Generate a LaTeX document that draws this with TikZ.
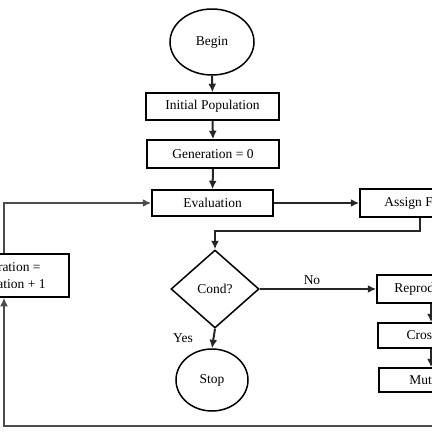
\documentclass[tikz,border=0pt]{standalone}
\usepackage{fontspec}
\setmainfont{Liberation Serif}
\usetikzlibrary{shapes.geometric,arrows.meta}
\begin{document}
\begin{tikzpicture}[x=1pt,y=-1pt,
  every node/.style={font=\fontsize{13.5}{16.5}\selectfont, text=black},
  procbox/.style={draw=black, line width=1.5pt, rectangle, inner sep=0pt, fill=white},
  termnode/.style={draw=black, line width=1.5pt, ellipse, inner sep=0pt},
  decnode/.style={draw=black, line width=1.5pt, diamond, inner sep=0pt},
  conn/.style={draw=black!85, line width=2pt, -{Latex[length=8.5pt,width=8pt]}},
  loopconn/.style={draw=black!70, line width=2.6pt, -{Latex[length=8.5pt,width=8pt]}},
  lbl/.style={inner sep=0pt}]
\useasboundingbox (0,0) rectangle (432,432);
\clip (0,0) rectangle (432,432);
\fill[white] (0,0) rectangle (432,432);

\node[termnode, minimum width=84pt, minimum height=66pt] (begin) at (212,42) {Begin};
\node[procbox, minimum width=133pt, minimum height=27pt] (init) at (212.5,106.5) {Initial Population};
\node[procbox, minimum width=132pt, minimum height=28pt] (gen0) at (213,154) {Generation = 0};
\node[procbox, minimum width=121pt, minimum height=26pt] (eval) at (212.5,203) {Evaluation};
\node[procbox, minimum width=128pt, minimum height=28pt] (assign) at (424,203) {Assign Fitness};
\node[procbox, minimum width=128pt, minimum height=43pt, align=center] (genupd) at (5,275.5) {Generation =\\Generation + 1};
\node[decnode, minimum width=88pt, minimum height=78pt, aspect=1.13] (cond) at (215,289) {Cond?};
\node[procbox, minimum width=108pt, minimum height=28pt] (repro) at (431,289) {Reproduction};
\node[procbox, minimum width=112pt, minimum height=25pt] (cross) at (434,335.5) {Crossover};
\node[procbox, minimum width=110pt, minimum height=24pt] (mut) at (434,380) {Mutation};
\node[termnode, minimum width=72pt, minimum height=62pt] (stop) at (212,380) {Stop};

\node[lbl] (no) at (312,280) {No};
\node[lbl] (yes) at (183,338) {Yes};

\coordinate (af) at (420,231);
\coordinate (cl) at (4,203);
\coordinate (rt) at (445,426);
\coordinate (lb) at (4,426);

\draw[conn] (begin.south) -- (init.north);
\draw[conn] (init.south) -- (gen0.north);
\draw[conn] (gen0.south) -- (eval.north);
\draw[conn] (eval.east) -- (assign.west);
\draw[conn] (assign.south -| af) -- (af) -- (af -| cond.north) -- (cond.north);
\draw[conn] (cond.east) -- (repro.west);
\draw[conn] (cond.south) -- (stop.north);
\draw[conn] (repro.south -| 431,0) -- (cross.north -| 431,0);
\draw[conn] (cross.south -| 431,0) -- (mut.north -| 431,0);
\draw[loopconn] (genupd.north -| cl) -- (cl) -- (eval.west);
\draw[loopconn] (mut.south -| rt) -- (rt) -- (lb) -- (genupd.south -| lb);
\end{tikzpicture}
\end{document}
